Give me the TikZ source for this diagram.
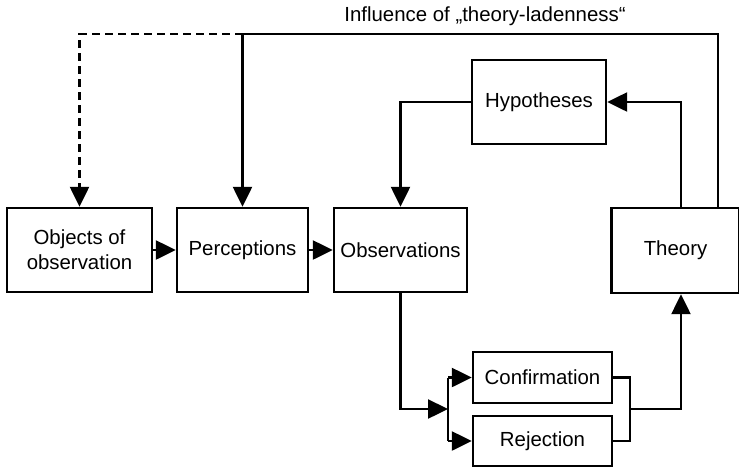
\documentclass[tikz,border=0pt]{standalone}
\usepackage{fontspec}
\setmainfont{Liberation Sans}
\usepackage{tikz}
\usetikzlibrary{arrows.meta,positioning,calc}

\begin{document}
\begin{tikzpicture}[
    x=0.5pt, y=-0.5pt,
    font=\fontsize{10.2}{12.5}\selectfont,
    box/.style={rectangle, draw, line width=1.2pt, inner sep=0pt, align=center},
    line/.style={line width=1.2pt},
    arrow/.style={line width=1.2pt, -{Triangle[length=10pt, width=9.5pt]}}
]
\useasboundingbox (0,0) rectangle (739,468);

% Main chain
\node[box, minimum width=72.5pt, minimum height=42pt] (obj) at (79.5,250) {Objects of\\observation};
\node[box, minimum width=65.5pt, minimum height=42pt] (perc) at (242.5,250) {Perceptions};
\node[box, minimum width=66.5pt, minimum height=42pt] (obs) at (400.5,250) {Observations};
\node[box, minimum width=64pt, minimum height=42.5pt] (theory) at (675.5,250.5) {Theory};

% Hypotheses and outcomes
\node[box, minimum width=67pt, minimum height=42pt] (hyp) at (539,102) {Hypotheses};
\node[box, minimum width=69.5pt, minimum height=25.5pt] (conf) at (542.5,377.5) {Confirmation};
\node[box, minimum width=69.5pt, minimum height=25pt] (rej) at (542.5,441) {Rejection};

% Title of the feedback loop
\node (infl) at (485,16) {Influence of „theory-ladenness“};

% Helper points
\coordinate (tr) at (718,34);
\coordinate (tm) at (perc.north |- tr);
\coordinate (tl) at (obj.north |- tr);
\coordinate (fk) at (448,409);
\coordinate (brk) at (630,409);
\coordinate (tx) at (681,409);

% Arrows
\draw[arrow] (obj) -- (perc);
\draw[arrow] (perc) -- (obs);
\draw[arrow] (hyp.west) -| (obs.north);
\draw[arrow] (theory.north -| tx) |- (hyp.east);

\draw[arrow] (obs.south) |- (fk);
\draw[line] (fk |- conf.west) -- (fk |- rej.west);
\draw[arrow] (fk |- conf.west) -- (conf.west);
\draw[arrow] (fk |- rej.west) -- (rej.west);

\draw[line] (conf.east) -| (brk) |- (rej.east);
\draw[arrow] (brk) -- (tx) -- (theory.south -| tx);

% Theory-ladenness
\draw[line] (theory.north -| tr) -- (tr) -- (tm);
\draw[arrow] (tm) -- (perc.north);
\draw[arrow, dash pattern=on 4pt off 2.5pt] (tm) -- (tl) -- (obj.north);

\end{tikzpicture}
\end{document}
